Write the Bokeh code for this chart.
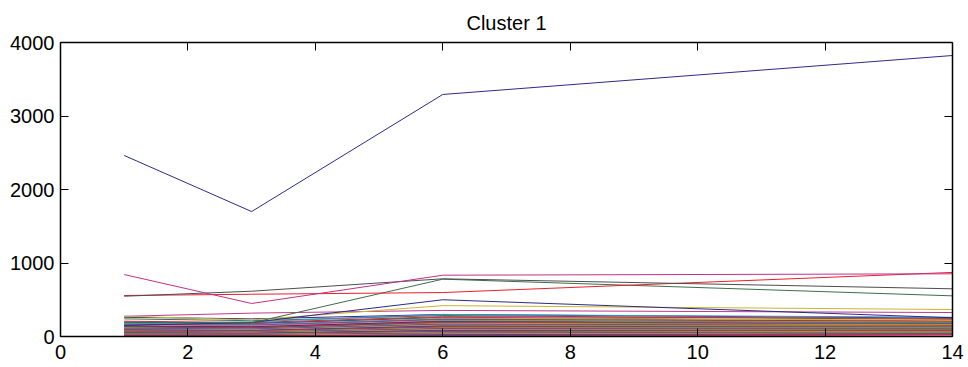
from bokeh.plotting import figure
from bokeh.models import LinearAxis, Range1d, FixedTicker
from bokeh.embed import file_html
from bokeh.resources import INLINE

title_text = "Cluster 1"
x_values = [1, 3, 6, 14]
x_ticks = [0, 2, 4, 6, 8, 10, 12, 14]
y_ticks = [0, 1000, 2000, 3000, 4000]

big_series = [2463, 1700, 3293, 3823]
magenta_series = [843, 449, 834, 853]
gray_series = [548, 616, 785, 649]
red_series = [558, 575, 598, 872]
green_series = [195, 185, 780, 553]
navy_series = [150, 190, 500, 255]
yellow_series = [276, 225, 420, 367]
pink_series = [275, 318, 355, 326]
cyan_series = [170, 200, 300, 262]

small_series = [
    [262, 240, 300, 250], [240, 215, 285, 232], [208, 190, 270, 246], [196, 172, 262, 212],
    [188, 180, 255, 200], [180, 150, 248, 222], [172, 162, 240, 190], [165, 140, 232, 205],
    [160, 155, 228, 182], [152, 130, 220, 196], [148, 142, 214, 170], [142, 120, 210, 186],
    [138, 132, 204, 160], [132, 115, 198, 175], [128, 122, 192, 152], [124, 105, 186, 165],
    [120, 112, 180, 145], [116, 100, 176, 158], [112, 104, 170, 140], [108, 95, 165, 150],
    [104, 98, 160, 132], [100, 90, 155, 142], [96, 88, 150, 126], [92, 82, 145, 136],
    [88, 80, 140, 120], [85, 76, 135, 128], [82, 72, 130, 112], [78, 70, 125, 122],
    [75, 66, 120, 106], [72, 64, 115, 114], [68, 60, 110, 100], [65, 58, 105, 108],
    [62, 54, 100, 94], [58, 52, 95, 100], [55, 48, 90, 88], [52, 46, 85, 92],
    [48, 42, 80, 80], [45, 40, 75, 84], [42, 36, 70, 72], [38, 34, 65, 76],
    [35, 30, 60, 64], [32, 28, 55, 68], [28, 25, 50, 56], [25, 22, 45, 60],
    [22, 18, 40, 48], [18, 16, 35, 52], [15, 12, 30, 40], [12, 10, 25, 44],
    [10, 8, 20, 32], [8, 6, 15, 36], [6, 5, 12, 26], [4, 3, 8, 20],
]

palette = ["#2b2b8c", "#3d6e4b", "#e8202a", "#c0308a", "#555555", "#c9b530",
           "#2f97c6", "#8b3a3a", "#7a4a9a", "#e07a30", "#e07aa0", "#3a8a8a"]

p = figure(width=968, height=367, output_backend="svg", toolbar_location=None,
           x_range=Range1d(0, 14), y_range=Range1d(0, 4000),
           min_border_left=60, min_border_right=16, min_border_top=42, min_border_bottom=31,
           title=title_text)
p.frame_width = 892
p.frame_height = 294
p.title.align = "center"
p.title.text_font = "Liberation Sans"
p.title.text_font_size = "20px"
p.title.text_font_style = "normal"
p.title.text_color = "black"
p.title.standoff = 17
p.xgrid.visible = False
p.ygrid.visible = False
p.outline_line_color = "black"
p.background_fill_color = "white"
p.border_fill_color = "white"

for ax, ticks in ((p.xaxis[0], x_ticks), (p.yaxis[0], y_ticks)):
    ax.ticker = FixedTicker(ticks=ticks)
    ax.major_tick_in = 8
    ax.major_tick_out = 0
    ax.minor_tick_in = 0
    ax.minor_tick_out = 0
    ax.axis_line_color = "black"
    ax.axis_line_width = 1.5
    ax.major_tick_line_color = "black"
    ax.major_label_text_font = "Liberation Sans"
    ax.major_label_text_font_size = "20px"
    ax.major_label_text_color = "black"
p.xaxis[0].major_label_standoff = 8
p.yaxis[0].major_label_standoff = 6

for loc, ticks in (("above", x_ticks), ("right", y_ticks)):
    ax = LinearAxis(ticker=FixedTicker(ticks=ticks), major_tick_in=8, major_tick_out=0,
                    minor_tick_in=0, minor_tick_out=0, axis_line_color="black",
                    axis_line_width=1.5, major_label_standoff=0,
                    major_label_overrides={t: "" for t in ticks})
    p.add_layout(ax, loc)

for i, s in enumerate(small_series):
    p.line(x_values, s, line_color=palette[i % len(palette)], line_width=1)

named = [
    (cyan_series, "#2f97c6"), (pink_series, "#c2378c"), (yellow_series, "#c9b530"),
    (navy_series, "#2a2a8a"), (green_series, "#3d6e4b"), (red_series, "#e8202a"),
    (gray_series, "#4d4d4d"), (magenta_series, "#c0308a"), (big_series, "#2b2b8c"),
]
for s, c in named:
    p.line(x_values, s, line_color=c, line_width=1)

open("out.html", "w").write(file_html(p, INLINE))
